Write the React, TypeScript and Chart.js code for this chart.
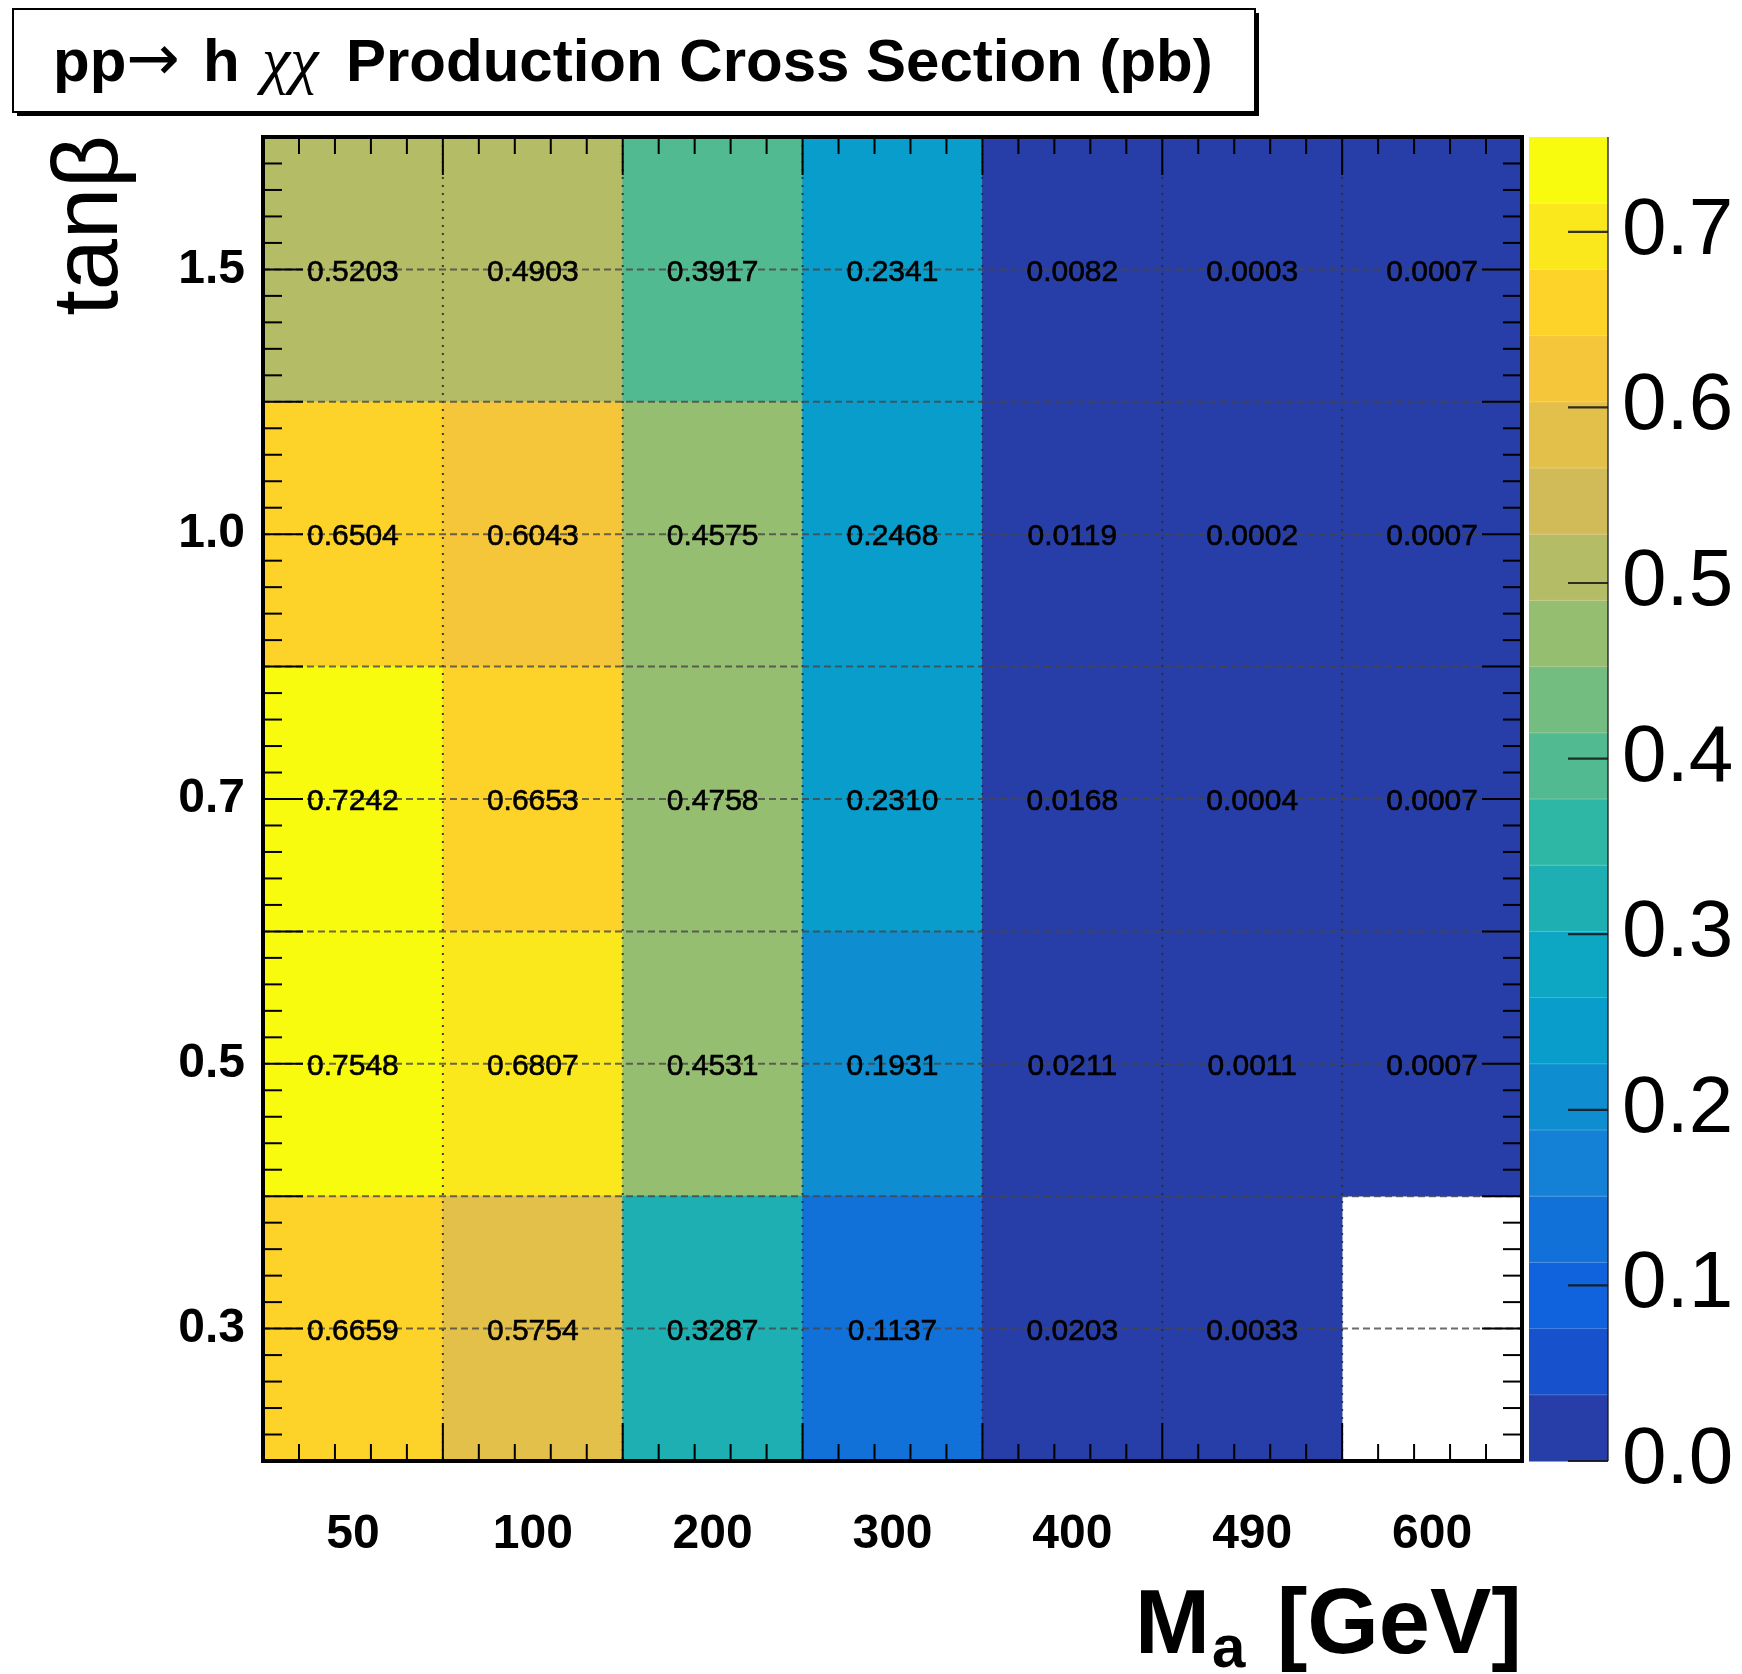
import React, { useEffect, useRef } from 'react';
import { Chart, registerables } from 'chart.js';

Chart.register(...registerables);

// ---------------- data ----------------
const massLabels = ['50', '100', '200', '300', '400', '490', '600'];
const tanBetaLabels = ['0.3', '0.5', '0.7', '1.0', '1.5'];

const xsTanB03: (number | null)[] = [0.6659, 0.5754, 0.3287, 0.1137, 0.0203, 0.0033, null];
const xsTanB05: (number | null)[] = [0.7548, 0.6807, 0.4531, 0.1931, 0.0211, 0.0011, 0.0007];
const xsTanB07: (number | null)[] = [0.7242, 0.6653, 0.4758, 0.231, 0.0168, 0.0004, 0.0007];
const xsTanB10: (number | null)[] = [0.6504, 0.6043, 0.4575, 0.2468, 0.0119, 0.0002, 0.0007];
const xsTanB15: (number | null)[] = [0.5203, 0.4903, 0.3917, 0.2341, 0.0082, 0.0003, 0.0007];
const rowsValues = [xsTanB03, xsTanB05, xsTanB07, xsTanB10, xsTanB15];

const zTickValues = [0.0, 0.1, 0.2, 0.3, 0.4, 0.5, 0.6, 0.7];
const zMin = 0;
const zMax = 0.754;
const nContours = 20;

// ROOT kBird palette stops
const birdStops = [0.0, 0.125, 0.25, 0.375, 0.5, 0.625, 0.75, 0.875, 1.0];
const birdRed = [0.2082, 0.0592, 0.078, 0.0232, 0.1802, 0.5301, 0.8186, 0.9956, 0.9764];
const birdGreen = [0.1664, 0.3599, 0.5041, 0.6419, 0.7178, 0.7492, 0.7328, 0.7862, 0.9832];
const birdBlue = [0.5293, 0.8684, 0.8385, 0.7914, 0.6425, 0.4662, 0.3499, 0.1968, 0.0539];

function bird(t: number): string {
  let i = 0;
  while (i < birdStops.length - 2 && t > birdStops[i + 1]) i++;
  const f = (t - birdStops[i]) / (birdStops[i + 1] - birdStops[i]);
  const c = (arr: number[]) => Math.round(255 * (arr[i] + (arr[i + 1] - arr[i]) * f));
  return `rgb(${c(birdRed)},${c(birdGreen)},${c(birdBlue)})`;
}
function bandColor(c: number): string {
  const idx = Math.floor((c + 0.99) * 255 / nContours);
  return bird(Math.min(1, idx / 254));
}
function colorFor(v: number): string {
  const dz = (zMax - zMin) / nContours;
  const c = Math.max(0, Math.min(nContours - 1, Math.floor((v - zMin) / dz)));
  return bandColor(c);
}

const SANS = '"Liberation Sans", Arial, Helvetica, sans-serif';

const noPad = (s: any) => {
  s.paddingTop = 0;
  s.paddingBottom = 0;
  s.paddingLeft = 0;
  s.paddingRight = 0;
};

const rootPlugin = {
  id: 'rootStyle',
  afterDatasetsDraw(chart: any) {
    const { ctx, chartArea: a, scales } = chart;
    const xs = scales.x, ys = scales.y, zs = scales.z;
    const line = (x1: number, y1: number, x2: number, y2: number) => {
      ctx.beginPath(); ctx.moveTo(x1, y1); ctx.lineTo(x2, y2); ctx.stroke();
    };
    ctx.save();
    // vertical dotted grid at bin edges
    ctx.strokeStyle = 'rgba(45,45,45,0.9)';
    ctx.lineWidth = 2;
    ctx.setLineDash([2, 6]);
    for (let i = 1; i < massLabels.length; i++) {
      const px = xs.getPixelForValue(i - 0.5);
      line(px, a.top, px, a.bottom);
    }
    // horizontal dashed grid at major y ticks
    ctx.strokeStyle = 'rgba(70,70,70,0.8)';
    ctx.lineWidth = 2;
    ctx.setLineDash([7, 4]);
    for (let k = 1; k < tanBetaLabels.length * 2; k++) {
      const py = ys.getPixelForValue(k * 0.5);
      line(a.left, py, a.right, py);
    }
    ctx.setLineDash([]);

    // cell texts
    ctx.fillStyle = '#000';
    ctx.strokeStyle = '#000';
    ctx.lineWidth = 0.6;
    ctx.font = `30px ${SANS}`;
    ctx.textAlign = 'center';
    ctx.textBaseline = 'middle';
    chart.data.datasets.forEach((_ds: any, di: number) => {
      const meta = chart.getDatasetMeta(di);
      meta.data.forEach((bar: any, i: number) => {
        const v = rowsValues[di][i];
        if (v == null) return;
        const p = bar.getProps(['x', 'y', 'base'], true);
        const ty = (p.y + p.base) / 2 + 3;
        ctx.fillText(v.toFixed(4), p.x, ty);
        ctx.strokeText(v.toFixed(4), p.x, ty);
      });
    });

    // tick marks
    ctx.strokeStyle = '#000';
    ctx.lineWidth = 2;
    const nx = massLabels.length * 5;
    for (let k = 0; k <= nx; k++) {
      const px = xs.getPixelForValue(-0.5 + k * 0.2);
      const len = k % 5 === 0 ? 38 : 17;
      line(px, a.bottom, px, a.bottom - len);
      line(px, a.top, px, a.top + len);
    }
    const ny = tanBetaLabels.length * 10;
    for (let k = 0; k <= ny; k++) {
      const py = ys.getPixelForValue(k * 0.1);
      const len = k % 5 === 0 ? 40 : 19;
      line(a.left, py, a.left + len, py);
      line(a.right, py, a.right - len, py);
    }

    // frame
    ctx.lineWidth = 4;
    ctx.strokeRect(a.left, a.top, a.right - a.left, a.bottom - a.top);

    // colour bar
    const cbL = 1529, cbR = 1608;
    const dz = (zMax - zMin) / nContours;
    for (let c = 0; c < nContours; c++) {
      const y0 = zs.getPixelForValue(zMin + c * dz);
      const y1 = zs.getPixelForValue(zMin + (c + 1) * dz);
      ctx.fillStyle = bandColor(c);
      ctx.fillRect(cbL, y1, cbR - cbL, y0 - y1 + 0.5);
    }
    ctx.strokeStyle = 'rgba(255,255,255,0.22)';
    ctx.lineWidth = 1;
    for (let c = 1; c < nContours; c++) {
      const y = zs.getPixelForValue(zMin + c * dz);
      line(cbL, y, cbR, y);
    }
    ctx.strokeStyle = 'rgba(20,20,20,0.85)';
    ctx.lineWidth = 1.5;
    line(cbR, zs.getPixelForValue(zMax), cbR, zs.getPixelForValue(zMin));
    ctx.lineWidth = 2.2;
    zTickValues.forEach((v) => {
      const y = zs.getPixelForValue(v);
      line(cbR - 40, y, cbR, y);
    });
    ctx.restore();
  },
  afterDraw(chart: any) {
    const { ctx } = chart;
    ctx.save();
    // title box with shadow
    const bx = 13, by = 9, bw = 1242, bh = 103;
    ctx.fillStyle = '#000';
    ctx.fillRect(bx + 4, by + 4, bw, bh);
    ctx.fillStyle = '#fff';
    ctx.fillRect(bx, by, bw, bh);
    ctx.strokeStyle = '#000';
    ctx.lineWidth = 2;
    ctx.strokeRect(bx, by, bw, bh);

    ctx.fillStyle = '#000';
    ctx.textBaseline = 'alphabetic';
    ctx.textAlign = 'left';
    const base = 81;
    ctx.font = `bold 60px ${SANS}`;
    ctx.fillText('pp', 53, base);
    ctx.font = `64px "DejaVu Sans", sans-serif`;
    ctx.fillText('\u2192', 126, base - 1);
    ctx.font = `bold 60px ${SANS}`;
    ctx.fillText('h', 203, base);
    ctx.font = `italic 64px "Liberation Serif", "DejaVu Serif", serif`;
    ctx.fillText('\u03c7\u03c7', 262, base);
    ctx.font = `bold 60px ${SANS}`;
    ctx.fillText('Production Cross Section (pb)', 346, base);

    // y title
    ctx.save();
    ctx.translate(117, 135);
    ctx.rotate(-Math.PI / 2);
    ctx.font = `92px ${SANS}`;
    ctx.textAlign = 'right';
    ctx.fillText('tan\u03b2', 0, 0);
    ctx.restore();

    // x title
    ctx.font = `bold 90px ${SANS}`;
    ctx.textAlign = 'left';
    const mx = 1135;
    ctx.fillText('M', mx, 1653);
    const mw = ctx.measureText('M').width;
    ctx.font = `bold 60px ${SANS}`;
    ctx.fillText('a', mx + mw + 2, 1667);
    ctx.font = `bold 92px ${SANS}`;
    ctx.textAlign = 'right';
    ctx.fillText('[GeV]', 1522, 1653);
    ctx.restore();
  },
};

export default function App() {
  const ref = useRef<HTMLCanvasElement | null>(null);
  useEffect(() => {
    if (!ref.current) return;
    const datasets = rowsValues.map((vals, r) => ({
      label: 'tan\u03b2 = ' + tanBetaLabels[r],
      data: vals.map((v) => (v == null ? null : [r, r + 1])),
      backgroundColor: vals.map((v) => (v == null ? 'rgba(0,0,0,0)' : colorFor(v))),
      borderWidth: 0,
      grouped: false,
      barPercentage: 1,
      categoryPercentage: 1,
      yAxisID: 'y',
    }));
    const chart = new Chart(ref.current, {
      type: 'bar',
      data: { labels: massLabels, datasets: datasets as any },
      options: {
        animation: false,
        responsive: false,
        devicePixelRatio: 1,
        layout: { padding: { left: 0, right: 0, top: 137, bottom: 0 } },
        plugins: { legend: { display: false }, tooltip: { enabled: false }, title: { display: false } },
        scales: {
          x: {
            type: 'category',
            offset: true,
            grid: { display: false, drawTicks: false },
            border: { display: false },
            ticks: {
              color: '#000',
              font: { family: SANS, size: 48, weight: 'bold', lineHeight: 1.2 },
              padding: 45,
              maxRotation: 0,
              minRotation: 0,
              autoSkip: false,
            },
            afterFit: (s: any) => { s.height = 213; noPad(s); },
          },
          y: {
            type: 'linear',
            position: 'left',
            min: 0,
            max: tanBetaLabels.length,
            grid: { display: false, drawTicks: false },
            border: { display: false },
            afterBuildTicks: (s: any) => {
              const t = [];
              for (let k = 0; k <= tanBetaLabels.length * 2; k++) t.push({ value: k * 0.5 });
              s.ticks = t;
            },
            ticks: {
              color: '#000',
              font: { family: SANS, size: 48, weight: 'bold' },
              padding: 18,
              autoSkip: false,
              callback: (v: any) => {
                const idx = Number(v) - 0.5;
                return Number.isInteger(idx) && idx >= 0 && idx < tanBetaLabels.length ? tanBetaLabels[idx] : '';
              },
            },
            afterFit: (s: any) => { s.width = 263; noPad(s); },
          },
          z: {
            type: 'linear',
            position: 'right',
            min: zMin,
            max: zMax,
            grid: { display: false, drawTicks: false },
            border: { display: false },
            afterBuildTicks: (s: any) => { s.ticks = zTickValues.map((v) => ({ value: v })); },
            ticks: {
              color: '#000',
              font: { family: SANS, size: 80 },
              padding: 100,
              autoSkip: false,
              callback: (v: any) => Number(v).toFixed(1),
            },
            afterFit: (s: any) => { s.width = 220; noPad(s); },
          },
        },
      } as any,
      plugins: [rootPlugin],
    });
    return () => chart.destroy();
  }, []);
  return (
    <div style={{ position: 'fixed', left: 0, top: 0, width: 1742, height: 1674, background: '#fff' }}>
      <canvas ref={ref} width={1742} height={1674} style={{ width: 1742, height: 1674, display: 'block' }} />
    </div>
  );
}
